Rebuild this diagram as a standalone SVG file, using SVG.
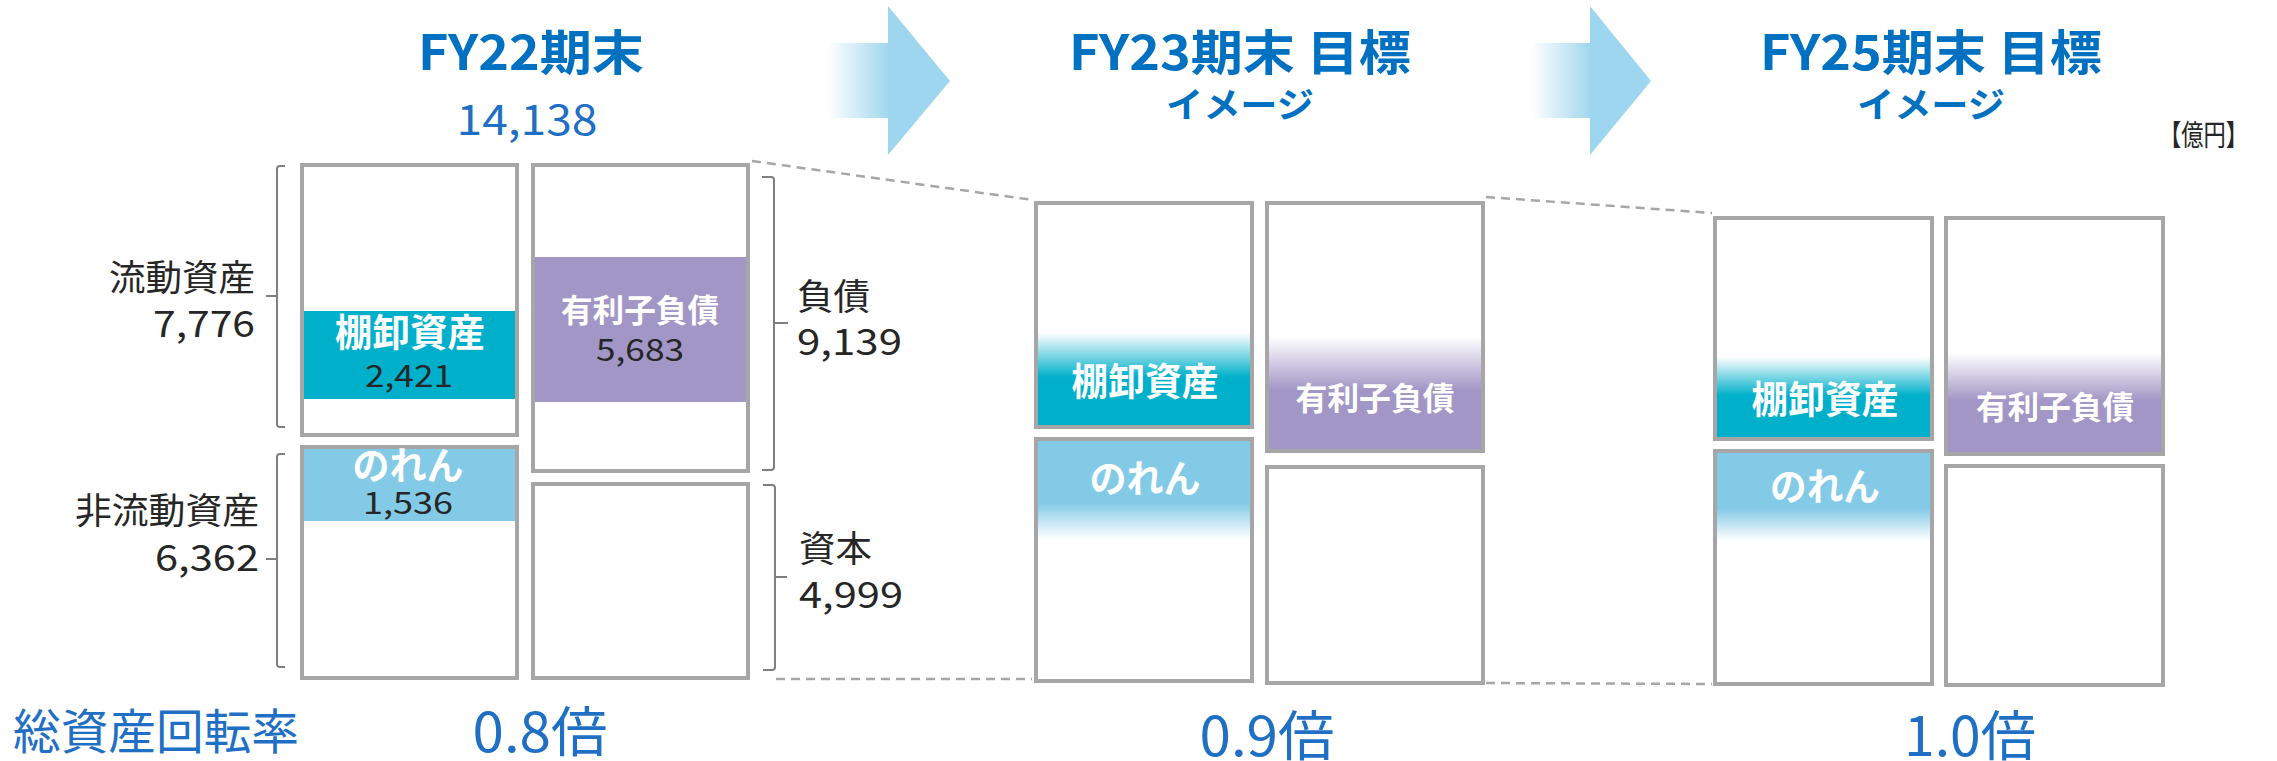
<svg xmlns="http://www.w3.org/2000/svg" width="2277" height="761" viewBox="0 0 2277 761">
<defs>
<style>
text{font-family:"Noto Sans CJK JP","Noto Sans",sans-serif;}
.box{fill:none;stroke:#A6A6A6;stroke-width:4;}
.wbox{fill:#FFFFFF;}
.title{font-weight:700;fill:#0070C0;font-size:48px;text-anchor:middle;}
.sub{font-weight:700;fill:#0070C0;font-size:35px;text-anchor:middle;}
.blue{fill:#1F6FC5;}
.lbl{fill:#262626;font-size:36px;}
.in{font-weight:700;fill:#FFFFFF;text-anchor:middle;}
.num{fill:#262626;font-size:30px;text-anchor:middle;}
.brk{fill:none;stroke:#7F7F7F;stroke-width:2;}
.dash{fill:none;stroke:#A6A6A6;stroke-width:2.5;stroke-dasharray:9,6;}
.ratio{fill:#1F6FC5;font-size:54px;text-anchor:middle;}
</style>
<linearGradient id="arrowBody" x1="0" y1="0" x2="1" y2="0">
<stop offset="0" stop-color="#9FD6EF" stop-opacity="0"/>
<stop offset="1" stop-color="#9FD6EF" stop-opacity="1"/>
</linearGradient>
<linearGradient id="tealFade" x1="0" y1="0" x2="0" y2="1">
<stop offset="0" stop-color="#00B0CB" stop-opacity="0"/>
<stop offset="0.47" stop-color="#00B0CB" stop-opacity="1"/>
<stop offset="1" stop-color="#00B0CB" stop-opacity="1"/>
</linearGradient>
<linearGradient id="purpleFade" x1="0" y1="0" x2="0" y2="1">
<stop offset="0" stop-color="#A296C6" stop-opacity="0"/>
<stop offset="0.47" stop-color="#A296C6" stop-opacity="1"/>
<stop offset="1" stop-color="#A296C6" stop-opacity="1"/>
</linearGradient>
<linearGradient id="norenFade" x1="0" y1="0" x2="0" y2="1">
<stop offset="0" stop-color="#83CAE7" stop-opacity="1"/>
<stop offset="0.63" stop-color="#83CAE7" stop-opacity="1"/>
<stop offset="1" stop-color="#83CAE7" stop-opacity="0"/>
</linearGradient>
</defs>
<rect x="0" y="0" width="2277" height="761" fill="#FFFFFF"/>

<g id="arrows">
<rect x="828" y="43" width="61" height="75" fill="url(#arrowBody)"/>
<polygon points="888,6 950,81 888,155" fill="#9FD6EF"/>
<rect x="1532" y="43" width="59" height="75" fill="url(#arrowBody)"/>
<polygon points="1590,6 1651,81 1590,155" fill="#9FD6EF"/>
</g>

<g id="connectors">
<line class="dash" x1="752" y1="161" x2="1033" y2="200"/>
<line class="dash" x1="776" y1="679" x2="1032" y2="679"/>
<line class="dash" x1="1486" y1="197" x2="1712" y2="213"/>
<line class="dash" x1="1486" y1="683" x2="1712" y2="684"/>
</g>

<g id="titles">
<text class="title" x="531" y="70" textLength="226" lengthAdjust="spacingAndGlyphs">FY22期末</text>
<text class="blue" x="527" y="135" font-size="42" text-anchor="middle" textLength="141" lengthAdjust="spacingAndGlyphs">14,138</text>
<text class="title" x="1240" y="70" textLength="342" lengthAdjust="spacingAndGlyphs">FY23期末 目標</text>
<text class="sub" x="1240" y="118" textLength="148" lengthAdjust="spacingAndGlyphs">イメージ</text>
<text class="title" x="1931" y="70" textLength="342" lengthAdjust="spacingAndGlyphs">FY25期末 目標</text>
<text class="sub" x="1931" y="118" textLength="148" lengthAdjust="spacingAndGlyphs">イメージ</text>
<text x="2159" y="146" font-size="29" fill="#262626" textLength="89" lengthAdjust="spacingAndGlyphs">【億円】</text>
</g>

<g id="fy22">
<rect class="wbox" x="302" y="165" width="215" height="270"/>
<rect class="wbox" x="302" y="447" width="215" height="231"/>
<rect class="wbox" x="533" y="165" width="215" height="306"/>
<rect class="wbox" x="533" y="484" width="215" height="194"/>
<rect x="304" y="311" width="212" height="88" fill="#00B0CB"/>
<rect x="535" y="257" width="211" height="145" fill="#A296C6"/>
<rect x="304" y="449" width="211" height="72" fill="#83CAE7"/>
<rect class="box" x="302" y="165" width="215" height="270"/>
<rect class="box" x="302" y="447" width="215" height="231"/>
<rect class="box" x="533" y="165" width="215" height="306"/>
<rect class="box" x="533" y="484" width="215" height="194"/>
<text class="in" x="410" y="346" font-size="38" textLength="150" lengthAdjust="spacingAndGlyphs">棚卸資産</text>
<text class="num" x="409" y="387" textLength="88" lengthAdjust="spacingAndGlyphs">2,421</text>
<text class="in" x="640" y="322" font-size="32" textLength="158" lengthAdjust="spacingAndGlyphs">有利子負債</text>
<text class="num" x="640" y="361" textLength="88" lengthAdjust="spacingAndGlyphs">5,683</text>
<text class="in" x="408" y="479" font-size="38" textLength="111" lengthAdjust="spacingAndGlyphs">のれん</text>
<text class="num" x="408" y="514" textLength="90" lengthAdjust="spacingAndGlyphs">1,536</text>
</g>

<g id="fy22-brackets">
<path class="brk" d="M285,166 H280 Q277,166 277,169 V424 Q277,427 280,427 H285 M277,296 H266"/>
<path class="brk" d="M285,454 H280 Q277,454 277,457 V664 Q277,667 280,667 H285 M277,559 H266"/>
<path class="brk" d="M762,177 H771 Q774,177 774,180 V467 Q774,470 771,470 H762 M774,323 H788"/>
<path class="brk" d="M763,485 H772 Q775,485 775,488 V667 Q775,670 772,670 H763 M775,577 H787"/>
</g>

<g id="fy22-labels">
<text class="lbl" x="255" y="291" text-anchor="end" textLength="146" lengthAdjust="spacingAndGlyphs">流動資産</text>
<text class="lbl" x="255" y="337" text-anchor="end" textLength="102" lengthAdjust="spacingAndGlyphs">7,776</text>
<text class="lbl" x="259" y="524" text-anchor="end" textLength="184" lengthAdjust="spacingAndGlyphs">非流動資産</text>
<text class="lbl" x="259" y="571" text-anchor="end" textLength="104" lengthAdjust="spacingAndGlyphs">6,362</text>
<text class="lbl" x="797" y="310" textLength="73" lengthAdjust="spacingAndGlyphs">負債</text>
<text class="lbl" x="797" y="355" textLength="105" lengthAdjust="spacingAndGlyphs">9,139</text>
<text class="lbl" x="799" y="562" textLength="73" lengthAdjust="spacingAndGlyphs">資本</text>
<text class="lbl" x="799" y="608" textLength="104" lengthAdjust="spacingAndGlyphs">4,999</text>
</g>

<g id="fy23">
<rect class="wbox" x="1036" y="203" width="216" height="224"/>
<rect class="wbox" x="1036" y="439" width="216" height="242"/>
<rect class="wbox" x="1267" y="203" width="216" height="248"/>
<rect class="wbox" x="1267" y="467" width="216" height="216"/>
<rect x="1038" y="333" width="214" height="94" fill="url(#tealFade)"/>
<rect x="1269" y="337" width="214" height="114" fill="url(#purpleFade)"/>
<rect x="1038" y="441" width="214" height="98" fill="url(#norenFade)"/>
<rect class="box" x="1036" y="203" width="216" height="224"/>
<rect class="box" x="1036" y="439" width="216" height="242"/>
<rect class="box" x="1267" y="203" width="216" height="248"/>
<rect class="box" x="1267" y="467" width="216" height="216"/>
<text class="in" x="1145" y="395" font-size="38" textLength="147" lengthAdjust="spacingAndGlyphs">棚卸資産</text>
<text class="in" x="1375" y="410" font-size="32" textLength="159" lengthAdjust="spacingAndGlyphs">有利子負債</text>
<text class="in" x="1145" y="492" font-size="38" textLength="111" lengthAdjust="spacingAndGlyphs">のれん</text>
</g>

<g id="fy25">
<rect class="wbox" x="1715" y="218" width="217" height="221"/>
<rect class="wbox" x="1715" y="451" width="217" height="233"/>
<rect class="wbox" x="1946" y="218" width="217" height="236"/>
<rect class="wbox" x="1946" y="466" width="217" height="219"/>
<rect x="1717" y="357" width="213" height="82" fill="url(#tealFade)"/>
<rect x="1948" y="353" width="213" height="101" fill="url(#purpleFade)"/>
<rect x="1717" y="453" width="213" height="88" fill="url(#norenFade)"/>
<rect class="box" x="1715" y="218" width="217" height="221"/>
<rect class="box" x="1715" y="451" width="217" height="233"/>
<rect class="box" x="1946" y="218" width="217" height="236"/>
<rect class="box" x="1946" y="466" width="217" height="219"/>
<text class="in" x="1825" y="413" font-size="38" textLength="147" lengthAdjust="spacingAndGlyphs">棚卸資産</text>
<text class="in" x="2055" y="419" font-size="32" textLength="158" lengthAdjust="spacingAndGlyphs">有利子負債</text>
<text class="in" x="1825" y="500" font-size="38" textLength="110" lengthAdjust="spacingAndGlyphs">のれん</text>
</g>

<g id="ratios">
<text class="blue" x="13" y="749" font-size="48" textLength="286" lengthAdjust="spacingAndGlyphs">総資産回転率</text>
<text class="ratio" x="540" y="752" textLength="135" lengthAdjust="spacingAndGlyphs">0.8倍</text>
<text class="ratio" x="1267" y="756" textLength="135" lengthAdjust="spacingAndGlyphs">0.9倍</text>
<text class="ratio" x="1970" y="756" textLength="132" lengthAdjust="spacingAndGlyphs">1.0倍</text>
</g>
</svg>
